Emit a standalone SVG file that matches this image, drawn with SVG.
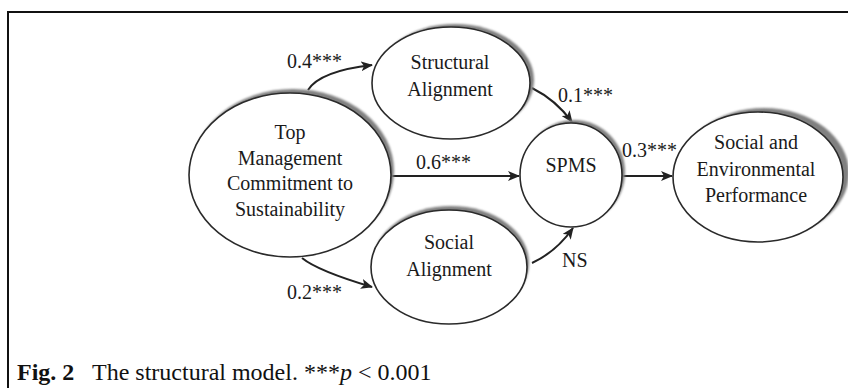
<svg xmlns="http://www.w3.org/2000/svg" width="848" height="388" viewBox="0 0 848 388">
  <style>
    .node { fill: #ffffff; stroke: #2a2a2a; stroke-width: 1.6; }
    .shade { fill: #808080; filter: url(#soft); }
    .label { font-family: "Liberation Serif", "Times New Roman", serif; font-size: 20px; fill: #1a1a1a; text-anchor: middle; }
    .coef { font-family: "Liberation Serif", "Times New Roman", serif; font-size: 20px; fill: #1a1a1a; }
    .edge { fill: none; stroke: #222222; stroke-width: 2; marker-end: url(#arrow); }
    .caption { font-family: "Liberation Serif", "Times New Roman", serif; font-size: 24px; fill: #111111; }
  </style>
  <defs>
    <filter id="soft" x="-10%" y="-10%" width="120%" height="120%">
      <feGaussianBlur stdDeviation="0.8"/>
    </filter>
    <marker id="arrow" markerUnits="userSpaceOnUse" markerWidth="12" markerHeight="10" refX="11" refY="5" orient="auto">
      <path d="M0,0 L12,5 L0,10 L3,5 z" fill="#222222"/>
    </marker>
  </defs>

  <rect width="848" height="388" fill="#ffffff"/>

  <!-- frame: top and left rules only -->
  <path d="M8,388 V12 H848" fill="none" stroke="#111111" stroke-width="2"/>

  <!-- connectors -->
  <g id="connectors">
    <path class="edge" d="M308,90 Q320,71 372,65"/>
    <path class="edge" d="M302,258 Q318,271 372,287"/>
    <path class="edge" d="M392,176 L519,176"/>
    <path class="edge" d="M532,88 Q556,100 572,122"/>
    <path class="edge" d="M532,263 Q556,252 573,228"/>
    <path class="edge" d="M622,176 L672,176"/>
  </g>

  <!-- coefficients -->
  <g id="coefficients">
    <text class="coef" x="287" y="68">0.4***</text>
    <text class="coef" x="287" y="299">0.2***</text>
    <text class="coef" x="416" y="169">0.6***</text>
    <text class="coef" x="558" y="102">0.1***</text>
    <text class="coef" x="622" y="157">0.3***</text>
    <text class="coef" x="562" y="267">NS</text>
  </g>

  <g id="top-management">
    <ellipse class="shade" cx="293" cy="171" rx="101" ry="82"/>
    <ellipse class="node" cx="290" cy="175" rx="101" ry="82"/>
    <text class="label" x="290" y="139">Top</text>
    <text class="label" x="290" y="165">Management</text>
    <text class="label" x="290" y="190">Commitment to</text>
    <text class="label" x="290" y="216">Sustainability</text>
  </g>

  <g id="structural-alignment">
    <ellipse class="shade" cx="455" cy="80" rx="79" ry="56"/>
    <ellipse class="node" cx="451" cy="83" rx="79" ry="56"/>
    <text class="label" x="450" y="69">Structural</text>
    <text class="label" x="450" y="96">Alignment</text>
  </g>

  <g id="social-alignment">
    <ellipse class="shade" cx="451" cy="263" rx="78" ry="57"/>
    <ellipse class="node" cx="449" cy="267" rx="78" ry="57"/>
    <text class="label" x="449" y="249">Social</text>
    <text class="label" x="449" y="276">Alignment</text>
  </g>

  <g id="spms">
    <ellipse class="shade" cx="574" cy="172" rx="51" ry="52"/>
    <ellipse class="node" cx="571" cy="175" rx="51" ry="52"/>
    <text class="label" x="571" y="172">SPMS</text>
  </g>

  <g id="social-environmental-performance">
    <ellipse class="shade" cx="764" cy="173" rx="85" ry="65"/>
    <ellipse class="node" cx="758" cy="177" rx="85" ry="65"/>
    <text class="label" x="756" y="149">Social and</text>
    <text class="label" x="756" y="176">Environmental</text>
    <text class="label" x="756" y="202">Performance</text>
  </g>

  <!-- caption -->
  <g id="caption">
    <text class="caption" x="17" y="380"><tspan font-weight="bold">Fig. 2</tspan><tspan x="92">The structural model. ***</tspan><tspan font-style="italic">p</tspan><tspan> &lt; 0.001</tspan></text>
  </g>
</svg>
